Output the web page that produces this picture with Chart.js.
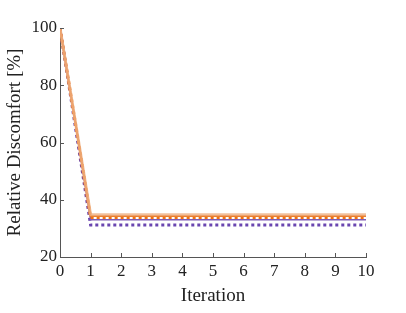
<!DOCTYPE html>
<html>
<head>
<meta charset="utf-8">
<script src="https://cdn.jsdelivr.net/npm/chart.js@4"></script>
<style>
  html, body { margin: 0; padding: 0; background: #fff; }
  #wrap { width: 406px; height: 313px; }
</style>
</head>
<body>
<div id="wrap"><canvas id="chart" width="406" height="313"></canvas></div>
<script>
const iterations = [0, 1, 2, 3, 4, 5, 6, 7, 8, 9, 10];
const lightOrange = [100, 34.8, 34.8, 34.8, 34.8, 34.8, 34.8, 34.8, 34.8, 34.8, 34.8];
const orangeSolid = [100, 34.3, 34.3, 34.3, 34.3, 34.3, 34.3, 34.3, 34.3, 34.3, 34.3];
const orangeDotted = [100, 33.8, 33.8, 33.8, 33.8, 33.8, 33.8, 33.8, 33.8, 33.8, 33.8];
const purpleSolid = [100, 33.0, 33.0, 33.0, 33.0, 33.0, 33.0, 33.0, 33.0, 33.0, 33.0];
const purpleDotted = [100, 31.2, 31.2, 31.2, 31.2, 31.2, 31.2, 31.2, 31.2, 31.2, 31.2];
const yTicks = [20, 40, 60, 80, 100];

const font = { family: "'Liberation Serif', 'DejaVu Serif', serif", size: 17 };
const titleFont = { family: "'Liberation Serif', 'DejaVu Serif', serif", size: 19 };
const axisColor = "#555";

function toPoints(values) {
    return iterations.map((x, i) => ({ x: x, y: values[i] }));
}

function series(values, color, width, dash) {
    return {
        data: toPoints(values),
        borderColor: color,
        borderWidth: width,
        borderDash: dash || [],
        pointRadius: 0,
        tension: 0,
        fill: false
    };
}

// MATLAB style inward ticks
const innerTicks = {
    id: "innerTicks",
    afterDraw(chart) {
        const ctx = chart.ctx;
        const area = chart.chartArea;
        const xs = chart.scales.x, ys = chart.scales.y;
        ctx.save();
        ctx.strokeStyle = axisColor;
        ctx.lineWidth = 1;
        ctx.beginPath();
        iterations.forEach(v => {
            const px = Math.round(xs.getPixelForValue(v)) + 0.5;
            ctx.moveTo(px, area.bottom);
            ctx.lineTo(px, area.bottom - 4);
        });
        yTicks.forEach(v => {
            const py = Math.round(ys.getPixelForValue(v)) + 0.5;
            ctx.moveTo(area.left, py);
            ctx.lineTo(area.left + 4, py);
        });
        ctx.stroke();
        ctx.restore();
    }
};

new Chart(document.getElementById("chart"), {
    type: "line",
    data: {
        datasets: [
            series(lightOrange, "rgba(238,175,130,0.8)", 3),
            series(orangeSolid, "#e8731c", 2),
            series(orangeDotted, "#f07212", 3, [3, 3]),
            series(purpleSolid, "#7e5cb3", 1.5),
            series(purpleDotted, "#6a46b0", 3, [3, 3])
        ]
    },
    plugins: [innerTicks],
    options: {
        responsive: false,
        animation: false,
        layout: { padding: { left: 0, right: 40, top: 28, bottom: 0 } },
        plugins: { legend: { display: false }, tooltip: { enabled: false } },
        scales: {
            x: {
                type: "linear",
                min: 0,
                max: 10,
                afterFit(scale) { scale.height = 56; },
                afterBuildTicks(scale) { scale.ticks = iterations.map(v => ({ value: v })); },
                grid: { display: false, drawTicks: false },
                border: { display: true, color: axisColor, width: 1 },
                ticks: { color: "#222", font: font, padding: 4, maxRotation: 0 },
                title: { display: true, text: "Iteration", color: "#222", font: titleFont, padding: { top: 0, bottom: 6 } }
            },
            y: {
                min: 20,
                max: 100,
                afterFit(scale) { scale.width = 60; },
                afterBuildTicks(scale) { scale.ticks = yTicks.map(v => ({ value: v })); },
                grid: { display: false, drawTicks: false },
                border: { display: true, color: axisColor, width: 1 },
                ticks: { color: "#222", font: font, padding: 3 },
                title: { display: true, text: "Relative Discomfort [%]", color: "#222", font: titleFont, padding: { top: 4, bottom: 2 } }
            }
        }
    }
});
</script>
</body>
</html>
